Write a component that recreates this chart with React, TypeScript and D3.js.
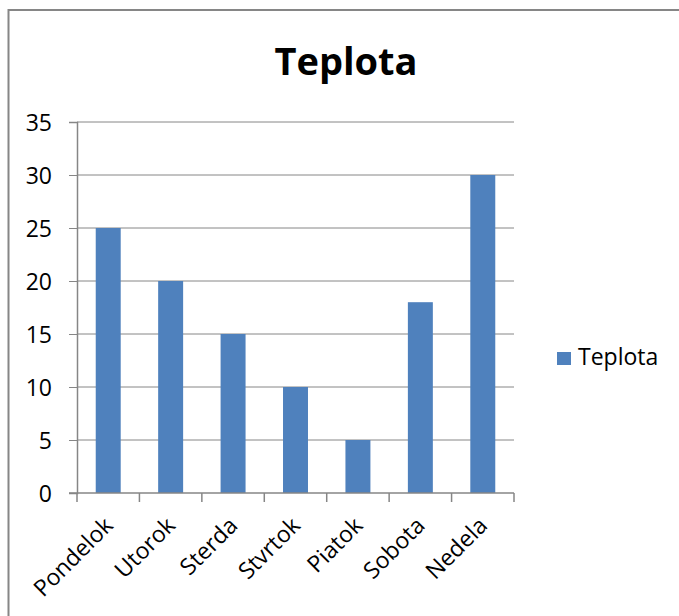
import React, { useRef, useEffect } from 'react';
import * as d3 from 'd3';

const days = ['Pondelok', 'Utorok', 'Sterda', 'Stvrtok', 'Piatok', 'Sobota', 'Nedela'];
const temps = [25, 20, 15, 10, 5, 18, 30];
const yTicks = [0, 5, 10, 15, 20, 25, 30, 35];
const seriesName = 'Teplota';
const chartTitle = 'Teplota';

const App = () => {
    const svgRef = useRef<SVGSVGElement>(null);

    useEffect(() => {
        const width = 679;
        const height = 616;
        const plot = { left: 77, right: 514, top: 122, bottom: 493 };
        const font = '"Open Sans", Lato, sans-serif';
        const gray = '#868686';

        const svg = d3.select(svgRef.current);
        svg.selectAll('*').remove();
        svg.attr('width', width).attr('height', height);

        svg.append('rect').attr('width', width).attr('height', height).attr('fill', '#fff');

        // chart frame (only top and left edges visible)
        svg.append('path')
            .attr('d', `M8.5,${height} V10 H${width}`)
            .attr('fill', 'none')
            .attr('stroke', gray)
            .attr('stroke-width', 2);

        const x = d3.scaleBand()
            .domain(days)
            .range([plot.left, plot.right])
            .paddingInner(0.6)
            .paddingOuter(0.3);

        const y = d3.scaleLinear()
            .domain([0, 35])
            .range([plot.bottom, plot.top]);

        // grid + y axis
        const yAxis = svg.append('g')
            .attr('transform', `translate(${plot.left},0)`)
            .call(d3.axisLeft(y).tickValues(yTicks).tickSize(8).tickPadding(17));
        yAxis.select('.domain').attr('stroke', gray).attr('stroke-width', 1.5);
        yAxis.selectAll('.tick line').attr('stroke', gray);
        yAxis.selectAll('.tick text')
            .attr('fill', '#000')
            .style('font-family', font)
            .style('font-size', '23px')
            .attr('dy', '0.36em');

        svg.append('g')
            .selectAll('line')
            .data(yTicks.filter(t => t > 0))
            .join('line')
            .attr('x1', plot.left)
            .attr('x2', plot.right)
            .attr('y1', d => y(d))
            .attr('y2', d => y(d))
            .attr('stroke', gray)
            .attr('stroke-width', 1);

        // bars
        svg.append('g')
            .selectAll('rect')
            .data(temps)
            .join('rect')
            .attr('x', (d, i) => x(days[i]))
            .attr('y', d => y(d))
            .attr('width', x.bandwidth())
            .attr('height', d => y(0) - y(d))
            .attr('fill', '#4F81BD');

        // x axis: ticks on band boundaries
        const step = x.step();
        const bounds = d3.range(days.length + 1).map(i => plot.left + i * step);
        svg.append('g')
            .selectAll('line')
            .data(bounds)
            .join('line')
            .attr('x1', d => d)
            .attr('x2', d => d)
            .attr('y1', plot.bottom)
            .attr('y2', plot.bottom + 9)
            .attr('stroke', gray)
            .attr('stroke-width', 1.5);
        svg.append('line')
            .attr('x1', plot.left - 8)
            .attr('x2', plot.right)
            .attr('y1', plot.bottom)
            .attr('y2', plot.bottom)
            .attr('stroke', gray)
            .attr('stroke-width', 1.5);

        svg.append('g')
            .selectAll('text')
            .data(days)
            .join('text')
            .attr('transform', d => `translate(${x(d) + x.bandwidth() / 2 + 6},${plot.bottom + 34}) rotate(-45)`)
            .attr('text-anchor', 'end')
            .style('font-family', font)
            .style('font-size', '23px')
            .attr('fill', '#000')
            .text(d => d);

        // title
        svg.append('text')
            .attr('x', 346)
            .attr('y', 75)
            .attr('text-anchor', 'middle')
            .style('font-family', font)
            .style('font-size', '38px')
            .style('font-weight', 'bold')
            .attr('fill', '#000')
            .text(chartTitle);

        // legend
        const legend = svg.append('g').attr('transform', 'translate(557,352)');
        legend.append('rect')
            .attr('width', 14)
            .attr('height', 13)
            .attr('fill', '#4F81BD');
        legend.append('text')
            .attr('x', 21)
            .attr('y', 13)
            .style('font-family', font)
            .style('font-size', '23px')
            .attr('fill', '#000')
            .text(seriesName);
    }, []);

    return (
        <div style={{ position: 'absolute', left: 0, top: 0 }}>
            <svg ref={svgRef} style={{ display: 'block' }}></svg>
        </div>
    );
};

export default App;
